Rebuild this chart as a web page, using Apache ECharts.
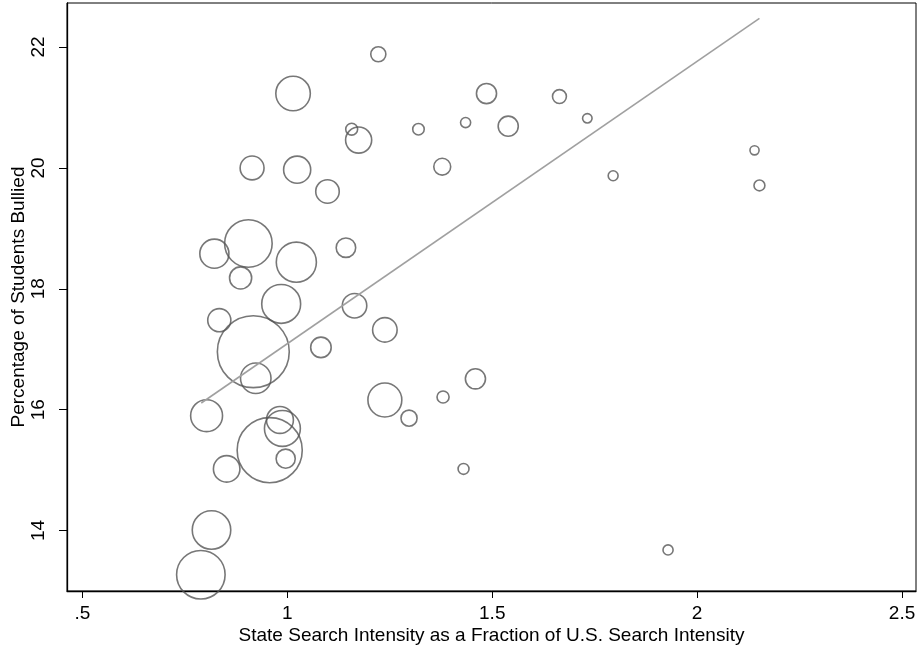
<!DOCTYPE html>
<html>
<head>
<meta charset="utf-8">
<script src="https://cdn.jsdelivr.net/npm/echarts@6/dist/echarts.min.js"></script>
<style>html,body{margin:0;padding:0;background:#fff}#c{width:920px;height:651px}</style>
</head>
<body>
<div id="c"></div>
<script>
// Search intensity (fraction of U.S.)
const searchIntensity = [1.222,1.014,1.486,1.664,1.732,1.435,1.320,1.157,1.174,1.539,2.140,0.914,1.024,1.378,1.795,2.152,1.098,0.905,0.822,1.143,1.022,0.886,0.985,1.164,0.834,1.238,0.917,1.082,0.923,1.459,1.380,1.238,0.803,0.982,1.297,0.988,0.957,0.996,0.852,1.430,0.815,0.789,1.929];
// Percentage of students bullied
const pctBullied = [21.88,21.23,21.23,21.18,20.82,20.75,20.64,20.64,20.46,20.69,20.29,20.00,19.97,20.02,19.87,19.71,19.61,18.75,18.58,18.68,18.44,18.18,17.75,17.72,17.48,17.32,16.96,17.03,16.52,16.51,16.21,16.16,15.90,15.83,15.86,15.69,15.33,15.19,15.02,15.02,14.01,13.27,13.68];
// Marker weights (relative state size)
const weights = [2.28,11.9,4.04,1.93,0.90,1.02,1.32,1.42,6.81,4.04,0.83,5.71,7.34,2.86,0.98,1.19,5.52,22.6,8.47,3.80,16.08,4.88,15.13,6.00,5.34,6.00,51.7,4.20,9.30,4.04,1.46,11.49,10.18,7.24,2.59,12.89,42.38,3.65,7.02,1.19,14.82,23.52,1.02];
// Fitted line endpoints
const fitX = [0.790, 2.152];
const fitY = [16.11, 22.475];
// Tick values
const xTicks = [0.5, 1, 1.5, 2, 2.5];
const yTicks = [14, 16, 18, 20, 22];

const FONT = 'Liberation Sans, Arial, sans-serif';
const chart = echarts.init(document.getElementById('c'), null, {renderer: 'canvas'});

const scatterData = searchIntensity.map((x, i) => [x, pctBullied[i], weights[i]]);
const lineData = fitX.map((x, i) => [x, fitY[i]]);

chart.setOption({
  animation: false,
  backgroundColor: '#fff',
  grid: {left: 67, right: 4, top: 3, bottom: 60, containLabel: false, outerBoundsMode: 'none',
    show: true, borderColor: '#000', borderWidth: 1, backgroundColor: 'transparent'},
  xAxis: {
    type: 'value', min: 0.4624, max: 2.534,
    name: 'State Search Intensity as a Fraction of U.S. Search Intensity',
    nameLocation: 'middle', nameGap: 35, nameMoveOverlap: false,
    nameTextStyle: {fontFamily: FONT, fontSize: 19, color: '#000'},
    splitLine: {show: false},
    axisLine: {show: true, onZero: false, lineStyle: {color: '#000', width: 1.3}},
    axisTick: {show: true, length: 7, lineStyle: {color: '#000', width: 1}, customValues: xTicks},
    axisLabel: {fontFamily: FONT, fontSize: 19, color: '#000', margin: 13, customValues: xTicks,
      formatter: v => (v === 0.5 ? '.5' : String(v))}
  },
  yAxis: {
    type: 'value', min: 13.0, max: 22.728,
    name: 'Percentage of Students Bullied',
    nameLocation: 'middle', nameGap: 39, nameRotate: 90, nameMoveOverlap: false,
    nameTextStyle: {fontFamily: FONT, fontSize: 19, color: '#000'},
    splitLine: {show: false},
    axisLine: {show: true, onZero: false, lineStyle: {color: '#000', width: 1.3}},
    axisTick: {show: true, length: 8, lineStyle: {color: '#000', width: 1}, customValues: yTicks},
    axisLabel: {fontFamily: FONT, fontSize: 19, color: '#000', margin: 19, rotate: 90, customValues: yTicks,
      formatter: v => String(v)}
  },
  series: [
    {
      type: 'scatter',
      data: scatterData,
      symbol: 'circle',
      symbolSize: d => 10 * Math.sqrt(d[2]),
      itemStyle: {color: 'rgba(0,0,0,0)', borderColor: '#555555', borderWidth: 1.6},
      clip: false,
      z: 2
    },
    {
      type: 'line',
      data: lineData,
      showSymbol: false,
      symbol: 'none',
      lineStyle: {color: '#a0a0a0', width: 1.6},
      z: 3
    }
  ]
});
</script>
</body>
</html>
